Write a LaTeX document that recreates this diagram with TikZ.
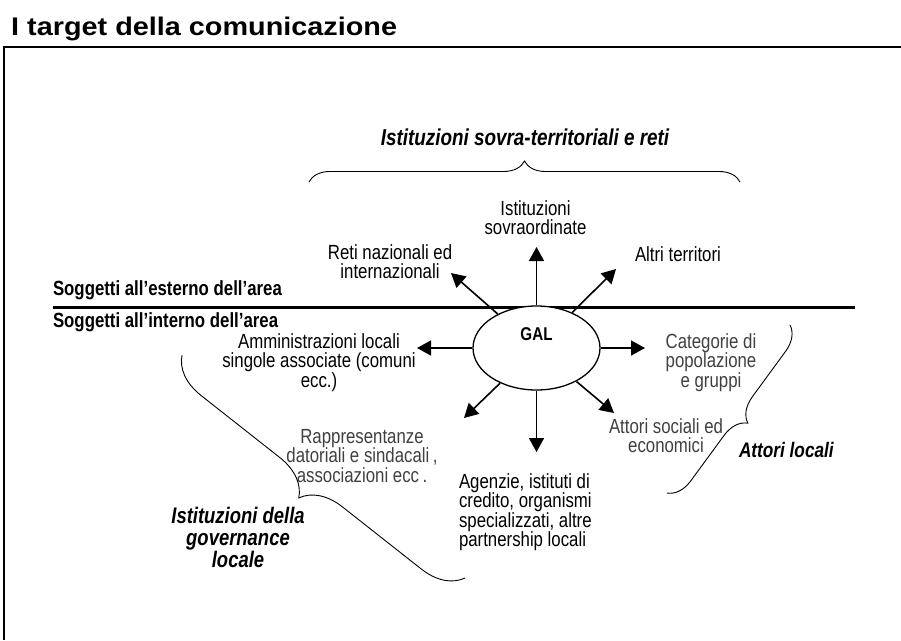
\documentclass[tikz,border=0pt]{standalone}
\usepackage{fontspec}
\setmainfont{Liberation Sans}
\newfontfamily\nar[FakeStretch=0.82]{Liberation Sans}
\newfontfamily\titlefont[FakeStretch=1.13]{Liberation Sans}
\usetikzlibrary{arrows.meta,shapes.geometric,decorations.pathreplacing}
\begin{document}
\begin{tikzpicture}[x=1pt,y=-1pt,
  reg/.style={font=\nar\fontsize{20.5}{19.5}\selectfont, inner sep=0pt, outer sep=0pt, align=center},
  greytxt/.style={reg, text=black!75},
  bisty/.style={font=\nar\bfseries\itshape\fontsize{22.5}{22}\selectfont, inner sep=0pt, outer sep=0pt, align=center},
  boldlab/.style={font=\nar\bfseries\fontsize{20.5}{19.5}\selectfont, inner sep=0pt, outer sep=0pt},
  arr/.style={line width=1.6pt, -{Triangle[length=14pt,width=15pt]}},
  bracesty/.style={line width=0.9pt, decorate}]
\useasboundingbox (0,0) rectangle (901,640);
% title and frame
\node[anchor=base west, inner sep=0pt, font=\titlefont\bfseries\fontsize{25.5}{30}\selectfont] (title) at (11,35) {I target della comunicazione};
\coordinate (fr1) at (901,47);
\coordinate (fr2) at (4,47);
\coordinate (fr3) at (4,640);
\draw[line width=1.2pt] (fr1) -- (fr2) -- (fr3);
% border line
\coordinate (bl) at (53,307);
\coordinate (br) at (855,307);
\draw[line width=3pt] (bl) -- (br);
\node[boldlab, anchor=base west] (est) at (53,295) {Soggetti all’esterno dell’area};
\node[boldlab, anchor=base west] (int) at (53,327) {Soggetti all’interno dell’area};
% GAL
\node[draw, fill=white, ellipse, line width=1.3pt, minimum width=127pt, minimum height=84pt, inner sep=0pt] (gal) at (536.5,348) {};
\node[font=\nar\bfseries\fontsize{18.5}{20}\selectfont, inner sep=0pt, anchor=base] (galtxt) at (536.5,340) {GAL};
% arrow tips
\coordinate (tN) at (536.5,247);
\coordinate (tNW) at (451,273);
\coordinate (tNE) at (616,269);
\coordinate (tW) at (417,348);
\coordinate (tE) at (645,348);
\coordinate (tSW) at (464,418);
\coordinate (tS) at (536.5,452);
\coordinate (tSE) at (614,413);
\foreach \t in {tN,tNW,tNE,tW,tE,tSW,tS,tSE} \draw[arr] (gal) -- (\t);
% labels
\node[reg, anchor=north] (ist) at (535.5,200.3) {Istituzioni\\sovraordinate};
\node[reg, anchor=north] (reti) at (390,244.3) {Reti nazionali ed\\internazionali};
\node[reg, anchor=base west] (altri) at (635,261.5) {Altri territori};
\node[reg, anchor=north] (amm) at (319,333.3) {Amministrazioni locali\\singole associate (comuni\\ecc.)};
\node[greytxt, anchor=north] (rapp) at (362,429.3) {Rappresentanze\\datoriali e sindacali\,,\\associazioni ecc\,.};
\node[greytxt, anchor=north] (cat) at (711,333.3) {Categorie di\\popolazione\\e gruppi};
\node[greytxt, anchor=north] (att) at (666,418.6) {Attori sociali ed\\economici};
\node[reg, align=left, anchor=north west] (age) at (459,473.6) {Agenzie, istituti di\\credito, organismi\\specializzati, altre\\partnership locali};
% group labels
\node[bisty, font=\nar\bfseries\itshape\fontsize{23}{22}\selectfont, anchor=base] (sovra) at (525,145) {Istituzioni sovra-territoriali e reti};
\node[bisty, font=\nar\bfseries\itshape\fontsize{21}{22}\selectfont, anchor=base west] (attloc) at (739,457) {Attori locali};
\node[bisty, anchor=north] (gov) at (238,507) {Istituzioni della\\governance\\locale};
% braces
\coordinate (b1a) at (309,182);
\coordinate (b1b) at (740,182);
\draw[bracesty, decoration={brace, amplitude=21pt}] (b1a) -- (b1b);
\coordinate (b2a) at (465,578);
\coordinate (b2b) at (182,355);
\draw[bracesty, decoration={brace, amplitude=40pt}] (b2a) -- (b2b);
\coordinate (b3a) at (790,325);
\coordinate (b3b) at (667,493);
\draw[bracesty, decoration={brace, amplitude=24pt}] (b3a) -- (b3b);
\end{tikzpicture}
\end{document}
